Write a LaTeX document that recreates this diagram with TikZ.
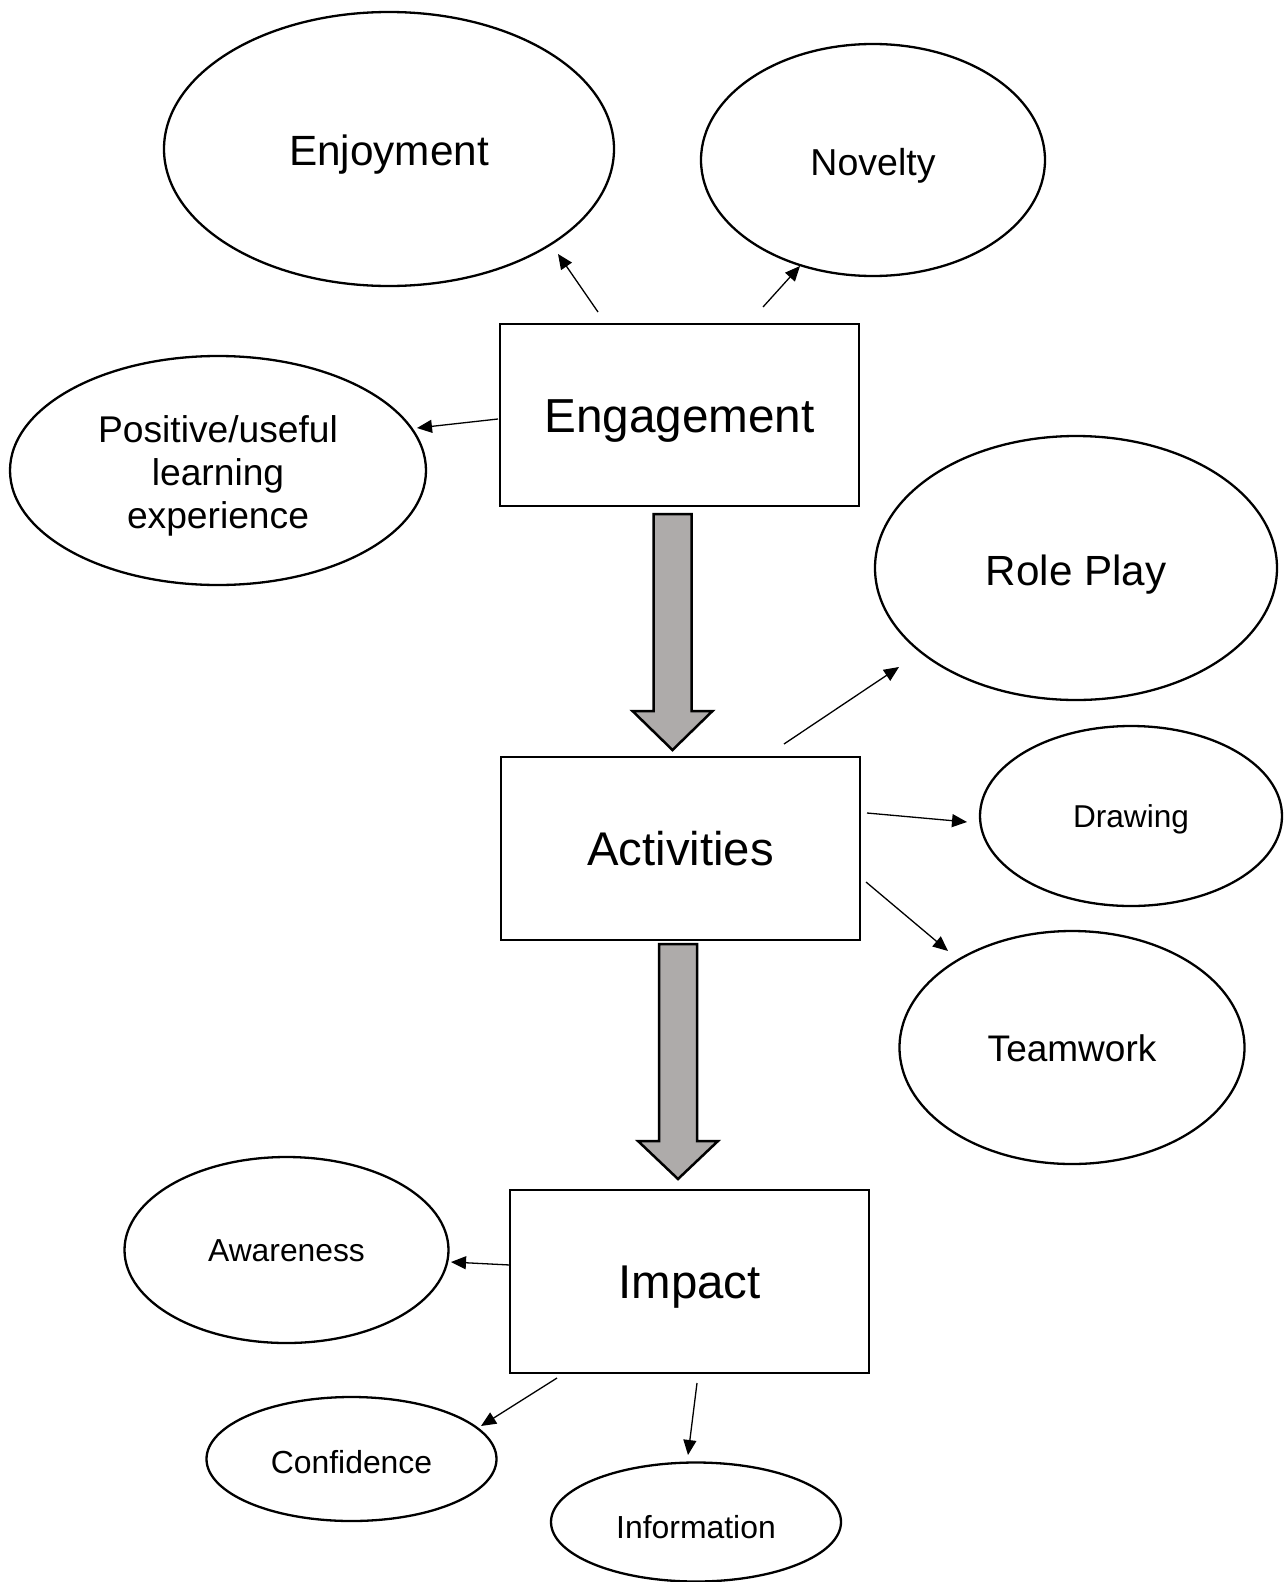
\documentclass[tikz,border=0pt]{standalone}
\usepackage{fontspec}
\setmainfont{Liberation Sans}
\usetikzlibrary{shapes.geometric,arrows.meta}
\definecolor{arrowgray}{RGB}{174,171,170}
\tikzset{
  oval/.style={ellipse, draw, line width=2.3pt, inner sep=0pt, text depth=0pt},
  box/.style={rectangle, draw, line width=1.3pt, inner sep=0pt, text depth=0pt},
  thinarrow/.style={line width=1.3pt, -{Triangle[length=15pt,width=13pt]}},
  bigarrow/.style={fill=arrowgray, draw=black, line width=2.5pt, line join=miter}
}
\newcommand{\fs}[1]{\fontsize{#1}{#1}\selectfont}
\begin{document}
\begin{tikzpicture}[x=1pt,y=-1pt]
\useasboundingbox (0,0) rectangle (1285,1582);
% ellipses
\node[oval, minimum width=450pt, minimum height=274pt, font=\fs{42.3}, text height=33pt] (enj) at (389,149) {Enjoyment};
\node[oval, minimum width=344pt, minimum height=232pt, font=\fs{37.5}, text height=31pt] (nov) at (873,160) {Novelty};
\node[oval, minimum width=416pt, minimum height=229pt] (pos) at (218,470.5) {};
\node[align=center, font=\fontsize{37.2}{43}\selectfont, inner sep=0pt] (poslabel) at (218,476) {Positive/useful\\learning\\experience};
\node[oval, minimum width=402pt, minimum height=264pt, font=\fs{42.2}, text height=34pt] (role) at (1076,568) {Role Play};
\node[oval, minimum width=302pt, minimum height=180pt, font=\fs{31.6}, text height=23pt] (draw) at (1131,816) {Drawing};
\node[oval, minimum width=345pt, minimum height=233pt, font=\fs{37}, text height=27pt] (team) at (1072,1047.5) {Teamwork};
\node[oval, minimum width=324pt, minimum height=186pt, font=\fs{31.8}, text height=23pt] (aware) at (286.5,1250) {Awareness};
\node[oval, minimum width=290pt, minimum height=124pt, font=\fs{31.9}, text height=29pt] (conf) at (351.5,1459) {Confidence};
\node[oval, minimum width=290pt, minimum height=119pt, font=\fs{31.9}, text height=33pt] (info) at (696,1522) {Information};
% boxes
\node[box, minimum width=359pt, minimum height=182pt, font=\fs{47.7}, text height=34.5pt] (eng) at (679.5,415) {Engagement};
\node[box, minimum width=359pt, minimum height=183pt, font=\fs{47.3}, text height=34.5pt] (act) at (680.5,848.5) {Activities};
\node[box, minimum width=359pt, minimum height=183pt, font=\fs{47.4}, text height=34.5pt] (imp) at (689.5,1281.5) {Impact};
% block arrows
\draw[bigarrow] (653.5,514) -- (691.5,514) -- (691.5,711) -- (712.5,711) -- (672.5,750) -- (632.5,711) -- (653.5,711) -- cycle;
\draw[bigarrow] (659,944) -- (697,944) -- (697,1141) -- (718,1141) -- (678,1179) -- (638,1141) -- (659,1141) -- cycle;
% thin arrow endpoints
\coordinate (s1) at (598,312); \coordinate (e1) at (558,254);
\coordinate (s2) at (763,307); \coordinate (e2) at (800,266);
\coordinate (s3) at (498,419); \coordinate (e3) at (417,428);
\coordinate (s4) at (784,744); \coordinate (e4) at (899,667);
\coordinate (s5) at (867,813); \coordinate (e5) at (967,822);
\coordinate (s6) at (866,882); \coordinate (e6) at (948,951);
\coordinate (s7) at (510,1265); \coordinate (e7) at (451,1262);
\coordinate (s8) at (557,1378); \coordinate (e8) at (481,1426);
\coordinate (s9) at (697,1383); \coordinate (e9) at (688,1455);
\draw[thinarrow] (s1) -- (e1);
\draw[thinarrow] (s2) -- (e2);
\draw[thinarrow] (s3) -- (e3);
\draw[thinarrow] (s4) -- (e4);
\draw[thinarrow] (s5) -- (e5);
\draw[thinarrow] (s6) -- (e6);
\draw[thinarrow] (s7) -- (e7);
\draw[thinarrow] (s8) -- (e8);
\draw[thinarrow] (s9) -- (e9);
\end{tikzpicture}
\end{document}
